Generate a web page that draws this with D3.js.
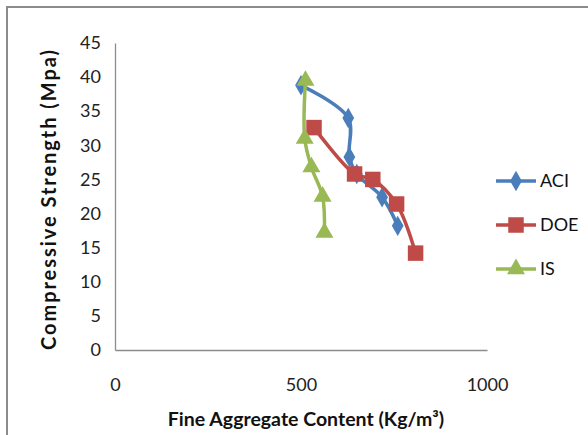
<!DOCTYPE html>
<html>
<head>
<meta charset="utf-8">
<script src="https://cdn.jsdelivr.net/npm/d3@7"></script>
<style>
  html, body { margin: 0; padding: 0; background: #fff; }
  svg { display: block; }
</style>
</head>
<body>
<svg id="chart" width="588" height="435"></svg>
<script>
// Fine aggregate content (kg/m3) vs compressive strength (MPa) for three mix design methods
const seriesNames = ["ACI", "DOE", "IS"];
const aciContent = [500, 627, 630, 650, 718, 760];
const aciStrength = [38.8, 34.0, 28.3, 25.8, 22.4, 18.2];
const doeContent = [535, 644, 693, 757, 808];
const doeStrength = [32.6, 25.8, 25.0, 21.4, 14.2];
const isContent = [512, 510, 528, 558, 563];
const isStrength = [39.5, 31.0, 26.8, 22.5, 17.2];
const xTicks = [0, 500, 1000];
const yTicks = [0, 5, 10, 15, 20, 25, 30, 35, 40, 45];
const colors = ["#4A7EBB", "#BE4B48", "#98B954"];

const svg = d3.select("#chart");
const font = "Lato, 'Open Sans', sans-serif";

// outer frame
svg.append("rect")
  .attr("x", 7).attr("y", 7).attr("width", 600).attr("height", 450)
  .attr("fill", "none").attr("stroke", "#8C8C8C").attr("stroke-width", 2);

const x = d3.scaleLinear().domain([0, 1000]).range([115, 487]);
const y = d3.scaleLinear().domain([0, 45]).range([350, 43]);

// axes
const xAxis = svg.append("g").attr("transform", `translate(0,${y(0)})`)
  .call(d3.axisBottom(x).tickValues(xTicks).tickFormat(d3.format("d")).tickSize(0).tickPadding(28));
const yAxis = svg.append("g").attr("transform", `translate(${x(0)},0)`)
  .call(d3.axisLeft(y).tickValues(yTicks).tickSize(0).tickPadding(14));
[xAxis, yAxis].forEach(g => {
  g.select(".domain").attr("stroke", "#8C8C8C").attr("stroke-width", 1.3);
  g.selectAll("text").attr("font-family", font).attr("font-size", 18).attr("fill", "#222");
});

// axis titles
svg.append("text")
  .attr("x", 306).attr("y", 426)
  .attr("text-anchor", "middle")
  .attr("font-family", font).attr("font-size", 19.5).attr("font-weight", "bold").attr("fill", "#111")
  .text("Fine Aggregate Content (Kg/m³)");
svg.append("text")
  .attr("transform", "translate(56,200) rotate(-90)")
  .attr("text-anchor", "middle")
  .attr("font-family", font).attr("font-size", 20).attr("font-weight", "bold").attr("fill", "#111")
  .attr("textLength", 300).attr("lengthAdjust", "spacing")
  .text("Compressive Strength (Mpa)");

const series = [
  { name: seriesNames[0], xs: aciContent, ys: aciStrength, symbol: d3.symbolDiamond, size: 120 },
  { name: seriesNames[1], xs: doeContent, ys: doeStrength, symbol: d3.symbolSquare, size: 240 },
  { name: seriesNames[2], xs: isContent, ys: isStrength, symbol: d3.symbolTriangle, size: 140 }
];

const line = d3.line()
  .x(d => x(d[0])).y(d => y(d[1]))
  .curve(d3.curveCatmullRom.alpha(0.5));

series.forEach((s, i) => {
  const pts = s.xs.map((v, k) => [v, s.ys[k]]);
  const g = svg.append("g");
  g.append("path")
    .attr("d", line(pts))
    .attr("fill", "none").attr("stroke", colors[i]).attr("stroke-width", 3.5)
    .attr("stroke-linejoin", "round");
  g.selectAll("path.m").data(pts).join("path")
    .attr("class", "m")
    .attr("transform", d => `translate(${x(d[0])},${y(d[1])})`)
    .attr("d", d3.symbol().type(s.symbol).size(s.size))
    .attr("fill", colors[i]);
});

// legend
const legend = svg.append("g");
series.forEach((s, i) => {
  const ly = 181 + i * 44;
  legend.append("line")
    .attr("x1", 496).attr("x2", 536).attr("y1", ly).attr("y2", ly)
    .attr("stroke", colors[i]).attr("stroke-width", 3.5);
  legend.append("path")
    .attr("transform", `translate(516,${ly})`)
    .attr("d", d3.symbol().type(s.symbol).size(s.size))
    .attr("fill", colors[i]);
  legend.append("text")
    .attr("x", 540).attr("y", ly).attr("dy", "0.35em")
    .attr("font-family", font).attr("font-size", 18).attr("fill", "#111")
    .text(s.name);
});
</script>
</body>
</html>
